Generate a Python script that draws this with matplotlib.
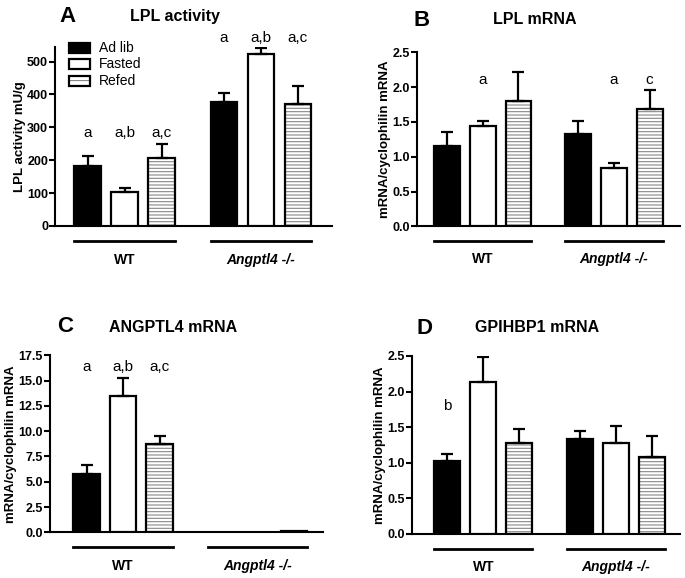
import numpy as np
import matplotlib
matplotlib.use('Agg')
import matplotlib.pyplot as plt
from matplotlib.patches import Rectangle

plt.rcParams['font.family'] = ['Liberation Sans', 'DejaVu Sans']
plt.rcParams['hatch.linewidth'] = 0.8

# ---- data ----
conditions = ['Ad lib', 'Fasted', 'Refed']
groups = ['WT', 'Angptl4 -/-']

lpl_act = [183, 102, 206, 376, 522, 372]
lpl_act_err = [29, 14, 43, 28, 20, 53]
lpl_act_sig = ['a', 'a,b', 'a,c', 'a', 'a,b', 'a,c']

lpl_mrna = [1.16, 1.445, 1.80, 1.33, 0.84, 1.69]
lpl_mrna_err = [0.19, 0.075, 0.42, 0.18, 0.065, 0.27]
lpl_mrna_sig = ['', 'a', '', '', 'a', 'c']

angptl4 = [5.8, 13.5, 8.7, 0.0, 0.0, 0.1]
angptl4_err = [0.85, 1.8, 0.8, 0.0, 0.0, 0.0]
angptl4_sig = ['a', 'a,b', 'a,c', '', '', '']

gpihbp1 = [1.02, 2.13, 1.27, 1.33, 1.28, 1.08]
gpihbp1_err = [0.10, 0.36, 0.21, 0.115, 0.235, 0.30]
gpihbp1_sig = ['b', '', '', '', '', '']

xpos = np.array([0, 1, 2, 3.68, 4.68, 5.68])
W, H = 685, 578

fig = plt.figure(figsize=(W / 100, H / 100), dpi=100)


def box(x0, x1, y0, y1):
    # pixel box -> figure fraction
    return [x0 / W, 1 - y1 / H, (x1 - x0) / W, (y1 - y0) / H]


def panel(rect, vals, errs, sig, ymax, ticks, fmt, sig_y, xlim, ylabel,
          letter, title, lx, tx, ty):
    ax = fig.add_axes(box(*rect))
    bw = 0.72
    face = ['black', 'white', 'white'] * 2
    for i in range(6):
        if vals[i] <= 0:
            continue  # nothing visible for zero values
        if i % 3 == 2:
            ax.bar(xpos[i], vals[i], bw, color='white', edgecolor='#888888',
                   hatch='-----', linewidth=0, zorder=2)
            ax.bar(xpos[i], vals[i], bw, color='none', edgecolor='black',
                   linewidth=1.6, zorder=3)
        else:
            ax.bar(xpos[i], vals[i], bw, color=face[i], edgecolor='black',
                   linewidth=1.6, zorder=3)
        if errs[i] > 0:
            ax.errorbar(xpos[i], vals[i], yerr=[[0], [errs[i]]], fmt='none',
                        ecolor='black', elinewidth=1.6, capsize=4.5,
                        capthick=1.6, zorder=4)
    for i, s in enumerate(sig):
        if s:
            yy = sig_y[i] if isinstance(sig_y, list) else sig_y
            ax.text(xpos[i], yy, s, ha='center', va='center', fontsize=11,
                    clip_on=False)
    ax.set_ylim(0, ymax)
    ax.set_xlim(*xlim)
    ax.set_yticks(ticks)
    ax.set_yticklabels([fmt.format(t) for t in ticks], fontweight='bold',
                       fontsize=9)
    ax.set_xticks([])
    for s in ['top', 'right']:
        ax.spines[s].set_visible(False)
    for s in ['left', 'bottom']:
        ax.spines[s].set_linewidth(1.5)
    ax.tick_params(axis='y', width=1.5, length=4, pad=1)
    ax.set_ylabel(ylabel, fontweight='bold', fontsize=9.5, labelpad=1)
    # group underlines and labels
    for g, (a, b) in enumerate([(0, 2), (3, 5)]):
        x0, x1 = xpos[a] - bw / 2, xpos[b] + bw / 2
        ax.plot([x0, x1], [-0.085, -0.085], color='black', lw=2,
                transform=ax.get_xaxis_transform(), clip_on=False)
        ax.text((x0 + x1) / 2, -0.19, groups[g], ha='center', va='center',
                fontsize=10, fontweight='bold',
                fontstyle='italic' if g == 1 else 'normal',
                transform=ax.get_xaxis_transform())
    fig.text(lx / W, 1 - ty / H, letter, fontsize=16, fontweight='bold',
             ha='center', va='center')
    fig.text(tx / W, 1 - ty / H, title, fontsize=11.5, fontweight='bold',
             ha='center', va='center')
    return ax


axA = panel((55, 332, 46.7, 226), lpl_act, lpl_act_err, lpl_act_sig, 545,
            [0, 100, 200, 300, 400, 500], '{:.0f}',
            [283, 283, 283, 571, 571, 571], (-0.88, 6.6),
            'LPL activity mU/g', 'A', 'LPL activity', 67, 175, 16)
axB = panel((416.7, 680, 52.3, 226.3), lpl_mrna, lpl_mrna_err, lpl_mrna_sig,
            2.5, [0, 0.5, 1.0, 1.5, 2.0, 2.5], '{:.1f}', 2.10, (-0.85, 6.53),
            'mRNA/cyclophilin mRNA', 'B', 'LPL mRNA', 422, 535, 20)
axC = panel((50, 323, 355.3, 532.3), angptl4, angptl4_err, angptl4_sig, 17.5,
            [0, 2.5, 5.0, 7.5, 10.0, 12.5, 15.0, 17.5], '{:.1f}', 16.3,
            (-1.0, 6.47), 'mRNA/cyclophilin mRNA', 'C', 'ANGPTL4 mRNA',
            65, 173, 327)
axD = panel((411.7, 680, 356, 533.7), gpihbp1, gpihbp1_err, gpihbp1_sig, 2.5,
            [0, 0.5, 1.0, 1.5, 2.0, 2.5], '{:.1f}', 1.8, (-0.99, 6.46),
            'mRNA/cyclophilin mRNA', 'D', 'GPIHBP1 mRNA', 425, 537, 328)

# legend in panel A
lx0, lw_, lh_ = 69, 21, 10
for k, (lab, yy) in enumerate(zip(conditions, [47.7, 64, 81])):
    fc = 'black' if k == 0 else 'white'
    if k == 2:
        fig.patches.append(Rectangle((lx0 / W, 1 - (yy + lh_ / 2) / H), lw_ / W,
                                     lh_ / H, transform=fig.transFigure,
                                     facecolor='white', edgecolor='#888888',
                                     hatch='---', linewidth=0))
    fig.patches.append(Rectangle((lx0 / W, 1 - (yy + lh_ / 2) / H), lw_ / W,
                                 lh_ / H, transform=fig.transFigure,
                                 facecolor=fc if k < 2 else 'none',
                                 edgecolor='black', linewidth=1.6))
    fig.text(99 / W, 1 - yy / H, lab, fontsize=10, ha='left', va='center')

fig.savefig('out.png', dpi=100)
